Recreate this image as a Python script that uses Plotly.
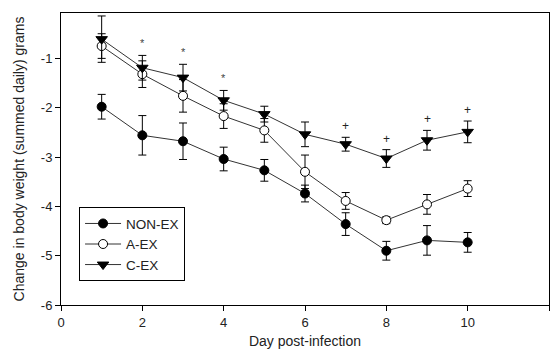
import plotly.graph_objects as go

days = [1, 2, 3, 4, 5, 6, 7, 8, 9, 10]

non_ex = [-1.98, -2.56, -2.68, -3.04, -3.27, -3.74, -4.36, -4.90, -4.69, -4.73]
non_ex_err = [0.25, 0.40, 0.37, 0.24, 0.22, 0.17, 0.23, 0.19, 0.30, 0.20]

a_ex = [-0.75, -1.32, -1.76, -2.17, -2.46, -3.30, -3.89, -4.28, -3.96, -3.64]
a_ex_err = [0.25, 0.27, 0.33, 0.25, 0.24, 0.34, 0.17, 0.07, 0.20, 0.16]

c_ex = [-0.61, -1.19, -1.39, -1.85, -2.13, -2.54, -2.74, -3.03, -2.66, -2.49]
c_ex_err = [0.47, 0.25, 0.27, 0.20, 0.16, 0.25, 0.14, 0.18, 0.20, 0.22]

sig_days = [2, 3, 4, 7, 8, 9, 10]
sig_marks = ["*", "*", "*", "+", "+", "+", "+"]

x_ticks = [0, 2, 4, 6, 8, 10, 12]
y_ticks = [-6, -5, -4, -3, -2, -1]
y_tick_labels = ["-6", "-5", "-4", "-3", "-2", "-1"]

FONT = "Liberation Sans, Arial, sans-serif"
LINE = "#333333"

fig = go.Figure()

def add_series(name, y, err, symbol, fill):
    fig.add_trace(go.Scatter(
        x=days, y=y, name=name, mode="lines+markers",
        line=dict(color=LINE, width=1),
        marker=dict(symbol=symbol, size=9 if "circle" in symbol else 10,
                    color=fill, line=dict(color="black", width=1)),
        error_y=dict(type="data", array=err, visible=True,
                     color="black", thickness=1, width=4),
    ))

add_series("NON-EX", non_ex, non_ex_err, "circle", "black")
add_series("A-EX", a_ex, a_ex_err, "circle", "white")
add_series("C-EX", c_ex, c_ex_err, "triangle-down", "black")

# significance marks placed above the C-EX error bars
idx = {d: i for i, d in enumerate(days)}
for d, m in zip(sig_days, sig_marks):
    i = idx[d]
    fig.add_annotation(
        x=d, y=c_ex[i] + c_ex_err[i], yshift=12 if m == "*" else 11,
        text=m, showarrow=False,
        font=dict(family=FONT, size=11 if m == "*" else 12,
                  color="#444444" if m == "*" else "#222222"),
    )

axis_common = dict(
    showline=True, linecolor="black", linewidth=1, mirror=True,
    ticks="outside", ticklen=5, tickcolor="black", tickwidth=1,
    showgrid=False, zeroline=False,
    tickfont=dict(family=FONT, size=13, color="#222222"),
)

fig.update_layout(
    width=552, height=353,
    margin=dict(l=61, r=3, t=13, b=48),
    paper_bgcolor="white", plot_bgcolor="white",
    font=dict(family=FONT, size=13, color="#222222"),
    showlegend=True,
    legend=dict(
        x=0.037, y=0.335, xanchor="left", yanchor="top",
        bordercolor="black", borderwidth=1, bgcolor="white",
        font=dict(family=FONT, size=13.5, color="#222222"),
        tracegroupgap=0, itemwidth=36,
    ),
    xaxis=dict(range=[0, 12], tickvals=x_ticks,
               title=dict(text="Day post-infection", standoff=7,
                          font=dict(family=FONT, size=14, color="#222222")),
               **axis_common),
    yaxis=dict(range=[-6, -0.08], tickvals=y_ticks, ticktext=y_tick_labels,
               title=dict(text="Change in body weight (summed daily) grams", standoff=12,
                          font=dict(family=FONT, size=14, color="#222222")),
               **axis_common),
)

fig.write_html("out.html")
